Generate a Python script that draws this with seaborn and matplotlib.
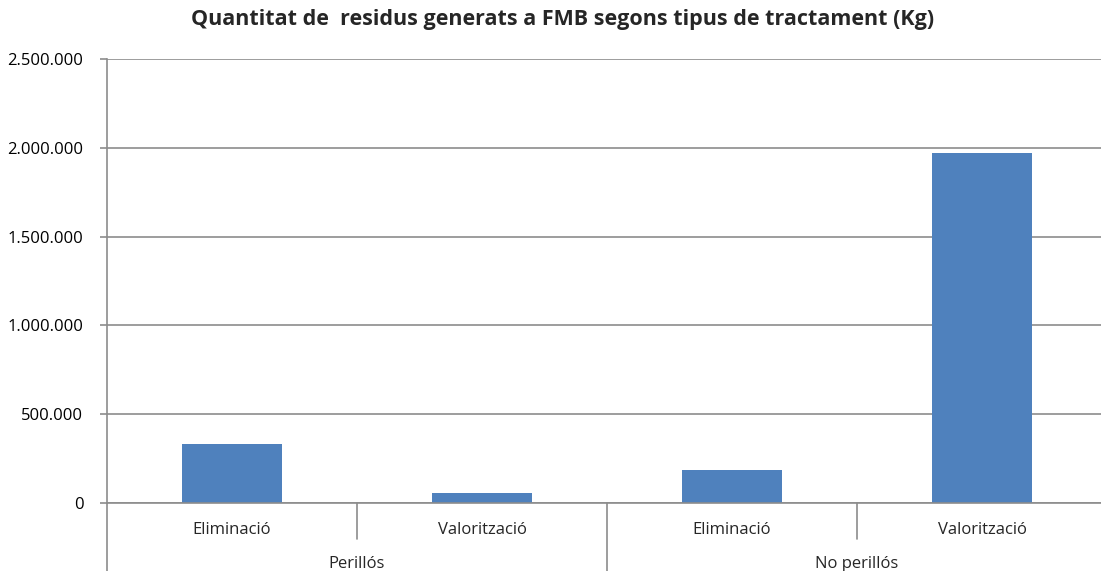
import matplotlib
matplotlib.use("Agg")
import matplotlib.pyplot as plt
import seaborn as sns
import pandas as pd

# data
groups = ["Perillós", "Perillós", "No perillós", "No perillós"]
treatments = ["Eliminació", "Valorització", "Eliminació", "Valorització"]
kg = [331000, 58000, 188000, 1970000]
y_ticks = [0, 500000, 1000000, 1500000, 2000000, 2500000]

title = "Quantitat de  residus generats a FMB segons tipus de tractament (Kg)"

df = pd.DataFrame({"group": groups, "treatment": treatments, "kg": kg})
df["key"] = [f"{g}|{t}" for g, t in zip(groups, treatments)]

sns.set_theme(style="white")
plt.rcParams["font.family"] = ["Open Sans", "DejaVu Sans"]

grid_color = "#8c8c8c"

fig = plt.figure(figsize=(11.01, 5.71), dpi=100)
ax = fig.add_axes([107 / 1101, 68 / 571, 1000 / 1101, 444 / 571])

sns.barplot(data=df, x="key", y="kg", order=list(df["key"]), color="#4f81bd",
            saturation=1, width=0.4, linewidth=0, ax=ax)

ax.set_xlim(-0.5, len(df) - 0.5)
ax.set_ylim(0, y_ticks[-1])
ax.set_yticks(y_ticks)
ax.set_yticklabels([f"{v:,.0f}".replace(",", ".") for v in y_ticks])
ax.yaxis.grid(True, color=grid_color, linewidth=1.2)
ax.set_axisbelow(True)
ax.tick_params(axis="y", left=True, length=5, width=1.2, color=grid_color,
               pad=12, labelsize=12, labelcolor="black")
ax.set_xticks([])
ax.set_xlabel("")
ax.set_ylabel("")

for side in ["top", "right"]:
    ax.spines[side].set_visible(False)
for side in ["left", "bottom"]:
    ax.spines[side].set_color(grid_color)
    ax.spines[side].set_linewidth(1.2)

trans = ax.get_xaxis_transform()
# left axis extension down through the label rows
ax.plot([-0.5, -0.5], [-0.16, 0], transform=trans, color=grid_color,
        linewidth=1.2, clip_on=False)

# treatment labels and short separators
for i, t in enumerate(treatments):
    ax.text(i, -0.061, t, transform=trans, ha="center", va="center", fontsize=12)
group_names = list(dict.fromkeys(groups))
for i in range(1, len(df)):
    same = groups[i] == groups[i - 1]
    y_end = -0.081 if same else -0.16
    ax.plot([i - 0.5, i - 0.5], [y_end, 0], transform=trans, color=grid_color,
            linewidth=1.2, clip_on=False)

# group labels
for g in group_names:
    idx = [i for i, gg in enumerate(groups) if gg == g]
    ax.text(sum(idx) / len(idx), -0.138, g, transform=trans, ha="center",
            va="center", fontsize=12)

fig.text(563 / 1101, 1 - 20 / 571, title, ha="center", va="center",
         fontsize=15.5, fontweight="bold")

fig.savefig("out.png", dpi=100)
